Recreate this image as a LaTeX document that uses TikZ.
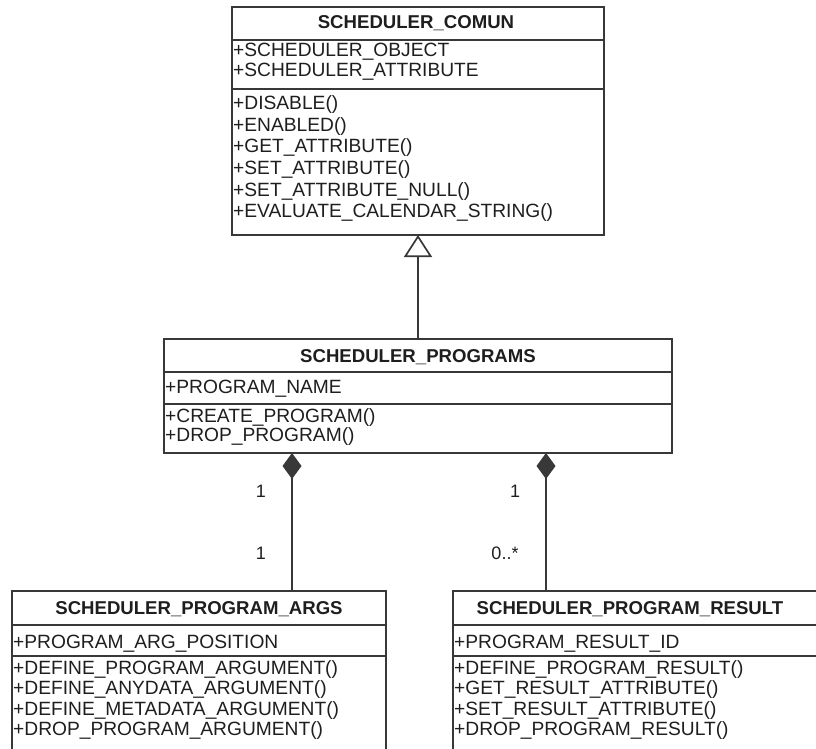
\documentclass[tikz,border=0pt]{standalone}
\usepackage{fontspec}
\setmainfont{Liberation Sans}
\usetikzlibrary{arrows.meta}
\definecolor{umlline}{HTML}{383838}
\definecolor{umltext}{HTML}{1E1E1E}
\begin{document}
\begin{tikzpicture}[x=1pt,y=-1pt,
  classbox/.style={draw=umlline, line width=1.7pt, rectangle, inner sep=0pt, outer sep=0pt, anchor=north west},
  sep/.style={draw=umlline, line width=1.7pt},
  member/.style={anchor=base west, inner sep=0pt, text=umltext, font=\fontsize{19.2}{20}\selectfont},
  title/.style={anchor=base, inner sep=0pt, text=umltext, font=\fontsize{18.6}{20}\selectfont\bfseries},
  mult/.style={anchor=base, inner sep=0pt, text=umltext, font=\fontsize{18}{20}\selectfont},
  inherit/.style={draw=umlline, line width=1.7pt, -{Triangle[open, length=22pt, width=28pt, fill=white]}},
  compose/.style={draw=umlline, line width=1.7pt, -{Diamond[length=26pt, width=19pt]}}]
\useasboundingbox (0,0) rectangle (816,749);
\clip (0,0) rectangle (816,749);

% SCHEDULER_COMUN
\node[classbox, minimum width=372pt, minimum height=228pt] (comun) at (232,7) {};
\draw[sep] (comun.west |- 0,40) -- (comun.east |- 0,40);
\draw[sep] (comun.west |- 0,89) -- (comun.east |- 0,89);
\node[title] (comunT) at (416,29) {SCHEDULER\_COMUN};
\node[member] (c1) at (233,57) {+SCHEDULER\_OBJECT};
\node[member] (c2) at (233,77) {+SCHEDULER\_ATTRIBUTE};
\foreach \t [count=\i] in {DISABLE(),ENABLED(),GET\_ATTRIBUTE(),SET\_ATTRIBUTE(),SET\_ATTRIBUTE\_NULL(),EVALUATE\_CALENDAR\_STRING()}
  \node[member] (cm\i) at (233,{110+21.5*(\i-1)}) {+\t};

% SCHEDULER_PROGRAMS
\node[classbox, minimum width=508pt, minimum height=114pt] (prog) at (164,339) {};
\draw[sep] (prog.west |- 0,372) -- (prog.east |- 0,372);
\draw[sep] (prog.west |- 0,404) -- (prog.east |- 0,404);
\node[title] (progT) at (418,362) {SCHEDULER\_PROGRAMS};
\node[member] (p1) at (165,393) {+PROGRAM\_NAME};
\node[member] (pm1) at (165,422) {+CREATE\_PROGRAM()};
\node[member] (pm2) at (165,441) {+DROP\_PROGRAM()};

% SCHEDULER_PROGRAM_ARGS
\node[classbox, minimum width=374pt, minimum height=170pt] (args) at (12,591) {};
\draw[sep] (args.west |- 0,625) -- (args.east |- 0,625);
\draw[sep] (args.west |- 0,656) -- (args.east |- 0,656);
\node[title] (argsT) at (199,614) {SCHEDULER\_PROGRAM\_ARGS};
\node[member] (a1) at (13,648) {+PROGRAM\_ARG\_POSITION};
\foreach \t [count=\i] in {DEFINE\_PROGRAM\_ARGUMENT(),DEFINE\_ANYDATA\_ARGUMENT(),DEFINE\_METADATA\_ARGUMENT(),DROP\_PROGRAM\_ARGUMENT()}
  \node[member] (am\i) at (13,{674+20.5*(\i-1)}) {+\t};

% SCHEDULER_PROGRAM_RESULT
\node[classbox, minimum width=380pt, minimum height=170pt] (res) at (453,591) {};
\draw[sep] (res.west |- 0,625) -- (res.east |- 0,625);
\draw[sep] (res.west |- 0,656) -- (res.east |- 0,656);
\node[title] (resT) at (630,614) {SCHEDULER\_PROGRAM\_RESULT};
\node[member] (r1) at (454,648) {+PROGRAM\_RESULT\_ID};
\foreach \t [count=\i] in {DEFINE\_PROGRAM\_RESULT(),GET\_RESULT\_ATTRIBUTE(),SET\_RESULT\_ATTRIBUTE(),DROP\_PROGRAM\_RESULT()}
  \node[member] (rm\i) at (454,{674+20.5*(\i-1)}) {+\t};

% generalization
\draw[inherit] (prog.north) -- (comun.south);

% compositions
\coordinate (ca) at (292,453);
\coordinate (cr) at (546,453);
\draw[compose] (args.north -| ca) -- (ca);
\draw[compose] (res.north -| cr) -- (cr);

% multiplicities
\node[mult] (ma1) at (261,497) {1};
\node[mult] (ma2) at (261,559) {1};
\node[mult] (mr1) at (515,497) {1};
\node[mult] (mr2) at (505,559) {0..*};
\end{tikzpicture}
\end{document}
